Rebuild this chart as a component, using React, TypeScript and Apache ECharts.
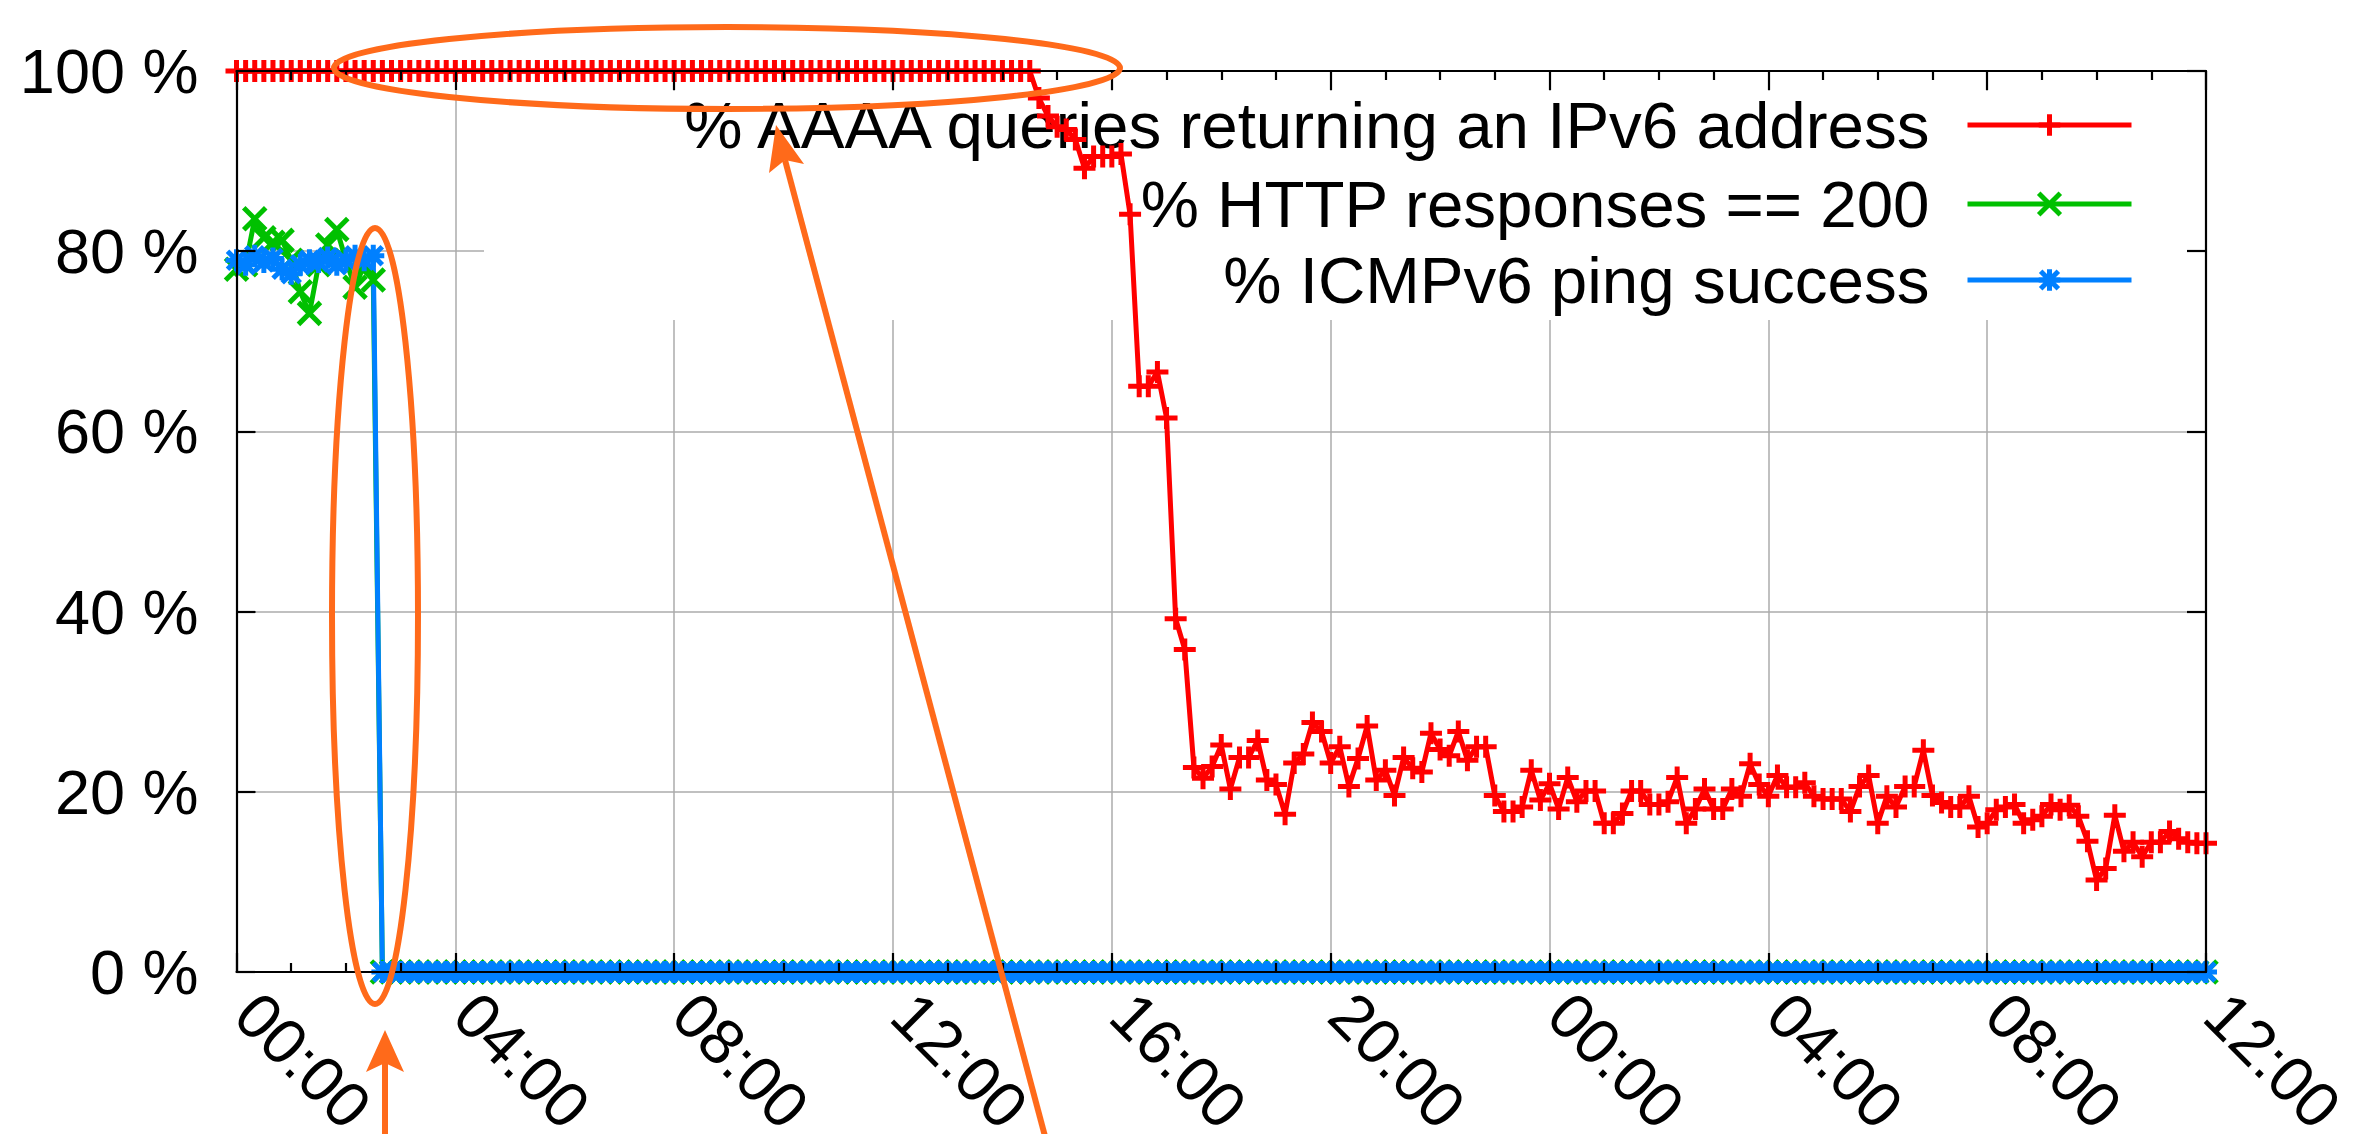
import React, { useEffect, useRef } from "react";
import * as echarts from "echarts";

// ---------- data ----------
const SERIES_NAMES = [
  "% AAAA queries returning an IPv6 address",
  "% HTTP responses == 200",
  "% ICMPv6 ping success",
];
const SERIES_COLORS = ["#ff0000", "#00c000", "#0080ff"];

// x axis: minutes since 00:00 of day 1, one sample every 10 minutes
const SAMPLE_STEP_MIN = 10;
const X_MIN = 0;
const X_MAX = 2160;
const X_TICK_STEP = 240;
const X_TICK_LABELS = ["00:00", "04:00", "08:00", "12:00", "16:00", "20:00", "00:00", "04:00", "08:00", "12:00"];
const Y_MIN = 0;
const Y_MAX = 100;
const Y_TICK_STEP = 20;

const aaaaPct = [
  100, 100, 100, 100, 100, 100, 100, 100, 100, 100, 100, 100, 100, 100, 100, 100, 100, 100, 100, 100, 100, 100,
  100, 100, 100, 100, 100, 100, 100, 100, 100, 100, 100, 100, 100, 100, 100, 100, 100, 100, 100, 100, 100, 100,
  100, 100, 100, 100, 100, 100, 100, 100, 100, 100, 100, 100, 100, 100, 100, 100, 100, 100, 100, 100, 100, 100,
  100, 100, 100, 100, 100, 100, 100, 100, 100, 100, 100, 100, 100, 100, 100, 100, 100, 100, 100, 100, 100, 100,
  97, 95, 93.8, 93.5, 92.4, 89.2, 90.5, 90.5, 90.5, 90.8, 84.1, 65, 65, 66.6, 61.5, 39.2, 35.8,
  22.7, 21.5, 22.8, 25.2, 20.3, 23.8, 23.8, 25.7, 21.3, 20.8, 17.5, 23.2, 24.2, 27.7, 26.7, 23.2,
  25.0, 20.6, 23.7, 27.3, 21.3, 22.4, 19.6, 23.8, 22.6, 22.2, 26.5, 24.7, 24.0, 26.7, 23.5, 25.0,
  25.0, 19.6, 17.8, 17.8, 18.3, 22.4, 19.1, 20.9, 18.1, 21.6, 18.9, 20.1, 20.1, 16.5, 16.5, 17.6,
  20.1, 20.1, 18.6, 18.6, 18.9, 21.6, 16.5, 18.1, 20.3, 18.1, 18.1, 20.3, 19.5, 23.1, 20.8, 19.5,
  21.8, 20.5, 20.5, 21.0, 19.5, 19.2, 19.2, 19.2, 17.8, 20.6, 21.8, 16.5, 19.5, 18.3, 20.6, 20.6,
  24.6, 19.6, 18.8, 18.3, 18.3, 19.5, 16.1, 16.5, 18.0, 18.3, 18.6, 16.5, 16.9, 17.3, 18.6, 18.0,
  18.5, 17.3, 14.5, 10.2, 11.5, 17.4, 13.4, 14.4, 12.8, 14.4, 14.4, 15.6, 14.8, 14.4, 14.3, 14.3,
];

const httpPct = [
  78, 78.5, 83.6, 81.5, 81, 81.2, 79, 75.5, 73.1, 78.5, 80.7, 82.4, 79, 76, 78.5, 76.8,
  0, 0, 0, 0, 0, 0, 0, 0, 0, 0, 0, 0, 0, 0, 0, 0, 0, 0, 0, 0, 0, 0, 0, 0, 0, 0, 0, 0, 0, 0,
  0, 0, 0, 0, 0, 0, 0, 0, 0, 0, 0, 0, 0, 0, 0, 0, 0, 0, 0, 0, 0, 0, 0, 0, 0, 0, 0, 0, 0, 0,
  0, 0, 0, 0, 0, 0, 0, 0, 0, 0, 0, 0, 0, 0, 0, 0, 0, 0, 0, 0, 0, 0, 0, 0, 0, 0, 0, 0, 0, 0,
  0, 0, 0, 0, 0, 0, 0, 0, 0, 0, 0, 0, 0, 0, 0, 0, 0, 0, 0, 0, 0, 0, 0, 0, 0, 0, 0, 0, 0, 0,
  0, 0, 0, 0, 0, 0, 0, 0, 0, 0, 0, 0, 0, 0, 0, 0, 0, 0, 0, 0, 0, 0, 0, 0, 0, 0, 0, 0, 0, 0,
  0, 0, 0, 0, 0, 0, 0, 0, 0, 0, 0, 0, 0, 0, 0, 0, 0, 0, 0, 0, 0, 0, 0, 0, 0, 0, 0, 0, 0, 0,
  0, 0, 0, 0, 0, 0, 0, 0, 0, 0, 0, 0, 0, 0, 0, 0, 0, 0, 0, 0, 0,
];

const pingPct = [
  79, 78.5, 79.5, 78.8, 79.2, 78, 77.5, 78.5, 79, 78.8, 79.3, 78.5, 79, 79.5, 79, 79.5,
  0, 0, 0, 0, 0, 0, 0, 0, 0, 0, 0, 0, 0, 0, 0, 0, 0, 0, 0, 0, 0, 0, 0, 0, 0, 0, 0, 0, 0, 0,
  0, 0, 0, 0, 0, 0, 0, 0, 0, 0, 0, 0, 0, 0, 0, 0, 0, 0, 0, 0, 0, 0, 0, 0, 0, 0, 0, 0, 0, 0,
  0, 0, 0, 0, 0, 0, 0, 0, 0, 0, 0, 0, 0, 0, 0, 0, 0, 0, 0, 0, 0, 0, 0, 0, 0, 0, 0, 0, 0, 0,
  0, 0, 0, 0, 0, 0, 0, 0, 0, 0, 0, 0, 0, 0, 0, 0, 0, 0, 0, 0, 0, 0, 0, 0, 0, 0, 0, 0, 0, 0,
  0, 0, 0, 0, 0, 0, 0, 0, 0, 0, 0, 0, 0, 0, 0, 0, 0, 0, 0, 0, 0, 0, 0, 0, 0, 0, 0, 0, 0, 0,
  0, 0, 0, 0, 0, 0, 0, 0, 0, 0, 0, 0, 0, 0, 0, 0, 0, 0, 0, 0, 0, 0, 0, 0, 0, 0, 0, 0, 0, 0,
  0, 0, 0, 0, 0, 0, 0, 0, 0, 0, 0, 0, 0, 0, 0, 0, 0, 0, 0, 0, 0,
];

const SERIES_VALUES = [aaaaPct, httpPct, pingPct];

// ---------- styling ----------
const FONT = "'Liberation Sans', Arial, Helvetica, sans-serif";
const ORANGE = "#ff6a1a";
const SYMBOLS = [
  "path://M0,11 L22,11 M11,0 L11,22",
  "path://M0,0 L22,22 M22,0 L0,22",
  "path://M0,11 L22,11 M11,0 L11,22 M2,2 L20,20 M20,2 L2,20",
];
const GRID_BOX = { left: 236.5, right: 149, top: 71, bottom: 162 };
const LEGEND_TOPS = [92, 171, 247];

function buildOption(): any {
  const baseX = {
    type: "value",
    min: X_MIN,
    max: X_MAX,
    interval: X_TICK_STEP,
  };
  const baseY = {
    type: "value",
    min: Y_MIN,
    max: Y_MAX,
    interval: Y_TICK_STEP,
  };
  const black = { color: "#000", width: 2.2 };
  const labelFmtX = (v: number) => X_TICK_LABELS[Math.round(v / X_TICK_STEP)] ?? "";

  return {
    animation: false,
    backgroundColor: "#fff",
    grid: [
      { ...GRID_BOX, containLabel: false, outerBoundsMode: "none" },
      { ...GRID_BOX, containLabel: false, outerBoundsMode: "none" },
    ],
    xAxis: [
      {
        ...baseX,
        gridIndex: 0,
        z: 0,
        axisLine: { show: false },
        axisTick: { show: false },
        axisLabel: { show: false },
        splitLine: { show: true, lineStyle: { color: "#ababab", width: 1.5 } },
      },
      {
        ...baseX,
        gridIndex: 1,
        position: "bottom",
        z: 3,
        axisLine: { show: true, onZero: false, lineStyle: black },
        axisTick: { show: true, inside: true, length: 19, lineStyle: black },
        minorTick: { show: true, splitNumber: 4, length: 9, lineStyle: black },
        splitLine: { show: false },
        axisLabel: {
          show: true,
          rotate: -45,
          margin: 22,
          padding: [0, 0, 0, 14],
          fontSize: 64,
          fontFamily: FONT,
          color: "#000",
          showMinLabel: true,
          showMaxLabel: true,
          hideOverlap: false,
          formatter: labelFmtX,
        },
      },
      {
        ...baseX,
        gridIndex: 1,
        position: "top",
        z: 3,
        axisLine: { show: true, onZero: false, lineStyle: black },
        axisTick: { show: true, inside: true, length: 19, lineStyle: black },
        minorTick: { show: true, splitNumber: 4, length: 9, lineStyle: black },
        splitLine: { show: false },
        axisLabel: { show: false },
      },
    ],
    yAxis: [
      {
        ...baseY,
        gridIndex: 0,
        z: 0,
        axisLine: { show: false },
        axisTick: { show: false },
        axisLabel: { show: false },
        splitLine: { show: true, lineStyle: { color: "#ababab", width: 1.5 } },
      },
      {
        ...baseY,
        gridIndex: 1,
        position: "left",
        z: 3,
        axisLine: { show: true, onZero: false, lineStyle: black },
        axisTick: { show: true, inside: true, length: 19, lineStyle: black },
        splitLine: { show: false },
        axisLabel: {
          show: true,
          margin: 38,
          fontSize: 63,
          fontFamily: FONT,
          color: "#000",
          formatter: "{value} %",
        },
      },
      {
        ...baseY,
        gridIndex: 1,
        position: "right",
        z: 3,
        axisLine: { show: true, onZero: false, lineStyle: black },
        axisTick: { show: true, inside: true, length: 19, lineStyle: black },
        splitLine: { show: false },
        axisLabel: { show: false },
      },
    ],
    legend: SERIES_NAMES.map((name, k) => ({
      data: [name],
      orient: "horizontal",
      right: 221,
      top: LEGEND_TOPS[k],
      align: "right",
      padding: 0,
      itemWidth: 164,
      itemHeight: 27,
      selectedMode: false,
      z: 1.5,
      textStyle: {
        fontSize: 65.5,
        fontFamily: FONT,
        color: "#000",
        lineHeight: 27,
        padding: [0, 33, 0, 0],
      },
      lineStyle: { width: 5 },
      itemStyle: { borderWidth: 5 },
    })),
    series: SERIES_NAMES.map((name, k) => ({
      type: "line",
      name,
      xAxisIndex: 0,
      yAxisIndex: 0,
      z: 2,
      silent: true,
      clip: true,
      symbol: SYMBOLS[k],
      symbolSize: 22,
      showAllSymbol: true,
      lineStyle: { color: SERIES_COLORS[k], width: 5 },
      itemStyle: { color: SERIES_COLORS[k], borderColor: SERIES_COLORS[k], borderWidth: 5 },
      emphasis: { disabled: true },
      data: SERIES_VALUES[k].map((v, i) => [i * SAMPLE_STEP_MIN, v]),
    })),
    graphic: [
      // opaque key box hiding the grid behind the legend
      {
        type: "rect",
        z: 1,
        silent: true,
        shape: { x: 484, y: 91, width: 1720, height: 229 },
        style: { fill: "#ffffff" },
      },
      // annotations
      {
        type: "ellipse",
        z: 100,
        silent: true,
        shape: { cx: 727, cy: 68, rx: 393, ry: 41 },
        style: { fill: "none", stroke: ORANGE, lineWidth: 6 },
      },
      {
        type: "ellipse",
        z: 100,
        silent: true,
        shape: { cx: 375, cy: 616, rx: 43, ry: 388 },
        style: { fill: "none", stroke: ORANGE, lineWidth: 6 },
      },
      {
        type: "line",
        z: 100,
        silent: true,
        shape: { x1: 385, y1: 1140, x2: 385, y2: 1062 },
        style: { stroke: ORANGE, lineWidth: 6 },
      },
      {
        type: "polygon",
        z: 100,
        silent: true,
        shape: { points: [[385, 1030], [404, 1072], [385, 1063], [366, 1072]] },
        style: { fill: ORANGE },
      },
      {
        type: "line",
        z: 100,
        silent: true,
        shape: { x1: 1046, y1: 1140, x2: 785, y2: 160 },
        style: { stroke: ORANGE, lineWidth: 6 },
      },
      {
        type: "polygon",
        z: 100,
        silent: true,
        shape: { points: [[776, 125], [804, 164], [785, 160], [769, 173]] },
        style: { fill: ORANGE },
      },
    ],
  };
}

export default function App() {
  const ref = useRef<HTMLDivElement>(null);
  useEffect(() => {
    if (!ref.current) return;
    const chart = echarts.init(ref.current, null, { renderer: "svg" });
    chart.setOption(buildOption());
    return () => chart.dispose();
  }, []);
  return (
    <div
      ref={ref}
      style={{ position: "fixed", left: 0, top: 0, width: 2355, height: 1134, background: "#fff" }}
    />
  );
}
